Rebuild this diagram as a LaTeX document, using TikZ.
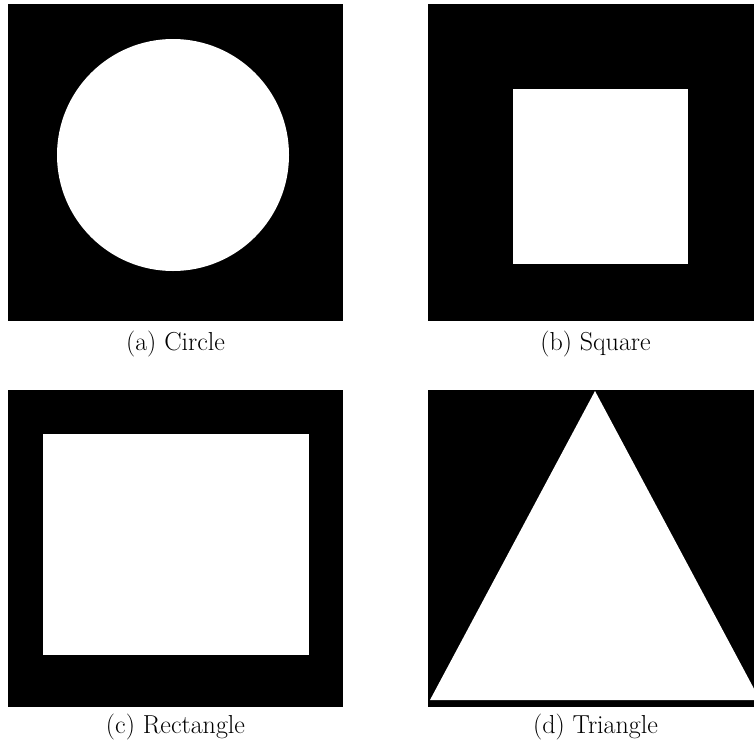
\documentclass[tikz,border=0pt]{standalone}
\begin{document}
\begin{tikzpicture}[x=1pt, y=-1pt, every node/.style={font=\fontsize{26}{31}\selectfont}]
\clip (0,0) rectangle (754,744);
% Black panels
\foreach \px/\py in {8/4, 428/4, 8/390, 428/390} \fill[black] (\px,\py) rectangle ++(335,317);
% White shapes
\fill[white] (173,155) circle (116pt);
\fill[white] (513,89) rectangle (688,264);
\fill[white] (43,434) rectangle (309,655);
\fill[white] (595,391) -- (430,700) -- (760,700) -- cycle;
% Captions
\node (capa) at (175.5,344) {(a) Circle};
\node (capb) at (595.5,344) {(b) Square};
\node (capc) at (175.5,727) {(c) Rectangle};
\node (capd) at (595.5,727) {(d) Triangle};
\end{tikzpicture}
\end{document}
